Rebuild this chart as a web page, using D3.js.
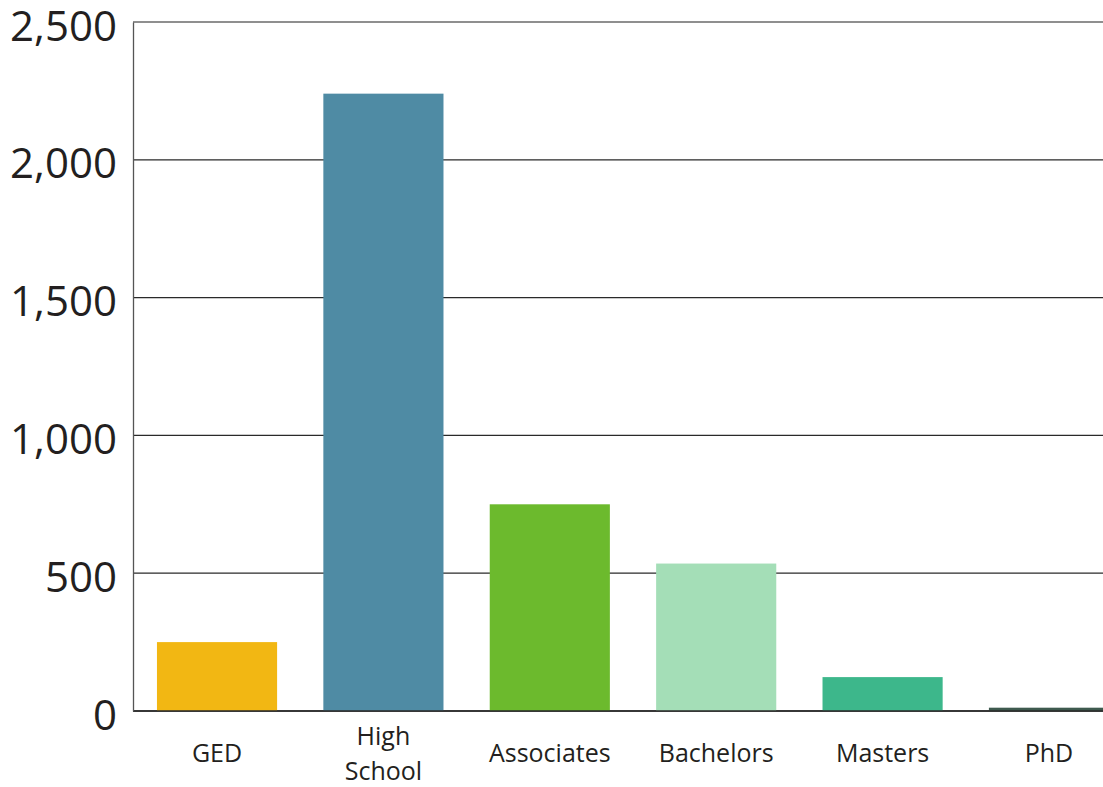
<!DOCTYPE html>
<html>
<head>
<meta charset="utf-8">
<script src="https://cdn.jsdelivr.net/npm/d3@7"></script>
<style>
  html, body { margin: 0; padding: 0; background: #fff; overflow: hidden; }
  svg { display: block; font-family: "Open Sans", "Noto Sans", sans-serif; }
</style>
</head>
<body>
<svg id="chart" width="1103" height="787"></svg>
<script>
// Education level counts
const categories = ["GED", "High School", "Associates", "Bachelors", "Masters", "PhD"];
const values = [250, 2240, 750, 535, 123, 12];
const barColors = ["#F2B713", "#4F8BA4", "#6CBA2D", "#A4DEB7", "#3DB78B", "#3E5A4E"];
const yTicks = [0, 500, 1000, 1500, 2000, 2500];

const FONT = '"Open Sans", "Noto Sans", sans-serif';
const svg = d3.select("#chart");
const margin = { left: 133, top: 22, bottom: 76 };
const height = 787;

const y = d3.scaleLinear()
  .domain([0, 2500])
  .range([height - margin.bottom, margin.top]);

const x = d3.scaleBand()
  .domain(categories)
  .range([margin.left, margin.left + 1000])
  .paddingInner(0.278)
  .paddingOuter(0.144);

// horizontal gridlines
svg.append("g")
  .selectAll("line")
  .data(yTicks)
  .join("line")
  .attr("x1", margin.left)
  .attr("x2", 1103)
  .attr("y1", d => y(d))
  .attr("y2", d => y(d))
  .attr("stroke", d => d === 2500 ? "#6a6a6a" : "#2a2a2a")
  .attr("stroke-width", 1.3);

// bars
svg.append("g")
  .selectAll("rect")
  .data(categories)
  .join("rect")
  .attr("x", d => x(d))
  .attr("width", x.bandwidth())
  .attr("y", (d, i) => y(values[i]))
  .attr("height", (d, i) => y(0) - y(values[i]))
  .attr("fill", (d, i) => barColors[i]);

// baseline redrawn over bars
svg.append("line")
  .attr("x1", margin.left).attr("x2", 1103)
  .attr("y1", y(0)).attr("y2", y(0))
  .attr("stroke", "#2a2a2a").attr("stroke-width", 1.3);

// left axis
const yAxis = d3.axisLeft(y)
  .tickValues(yTicks)
  .tickSize(0)
  .tickPadding(16)
  .tickFormat(d3.format(","));
const gy = svg.append("g")
  .attr("transform", `translate(${margin.left},0)`)
  .call(yAxis)
  .attr("font-family", FONT)
  .attr("font-size", 42);
gy.select(".domain").attr("stroke", "#555").attr("stroke-width", 1.3);
gy.selectAll("text")
  .attr("fill", "#231f20")
  .attr("dy", "0.36em")
  .attr("transform", "translate(0,3)");

// category labels (split on spaces onto separate lines)
const labels = svg.append("g")
  .attr("font-family", FONT)
  .selectAll("text")
  .data(categories)
  .join("text")
  .attr("text-anchor", "middle")
  .attr("font-size", 25)
  .attr("fill", "#231f20")
  .attr("x", d => x(d) + x.bandwidth() / 2);

labels.each(function(d) {
  const words = d.split(" ");
  const t = d3.select(this);
  const lineH = 35;
  const first = words.length === 1 ? 762 : 745;
  words.forEach((w, i) => {
    t.append("tspan")
      .attr("x", x(d) + x.bandwidth() / 2)
      .attr("y", first + i * lineH)
      .text(w);
  });
});
</script>
</body>
</html>
